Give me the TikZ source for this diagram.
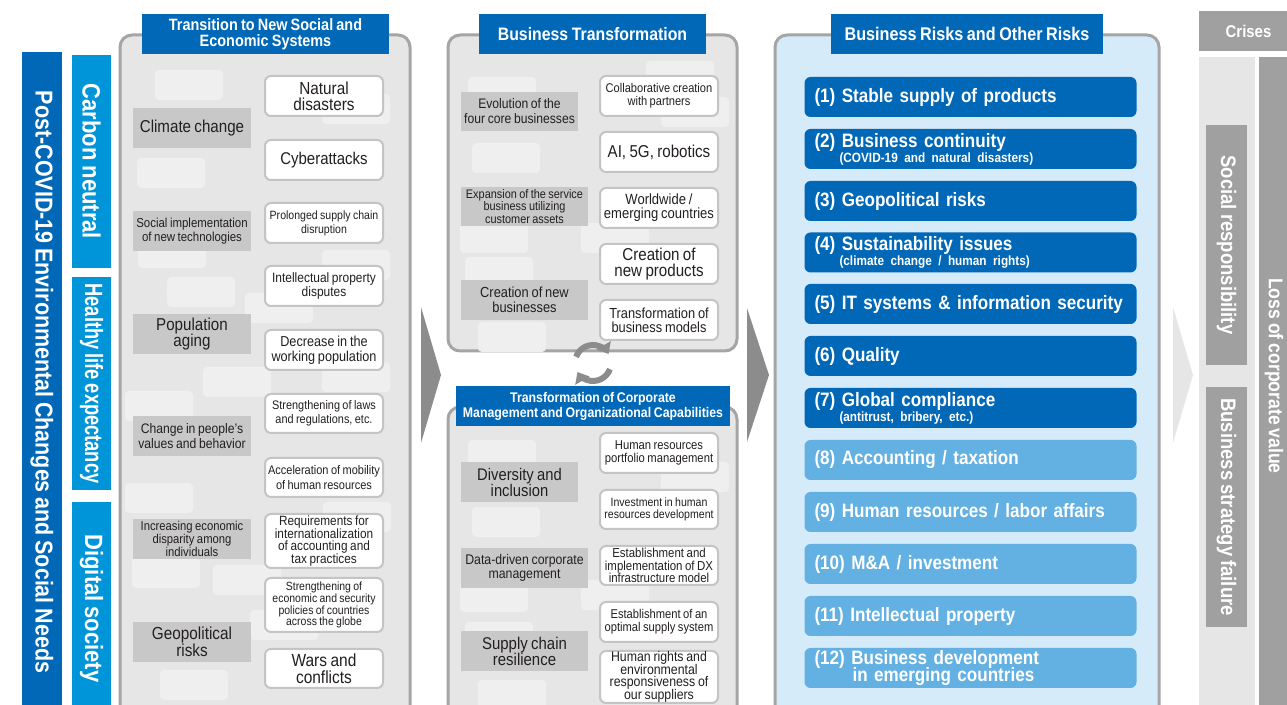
\documentclass[tikz,border=0pt]{standalone}
\usepackage{fontspec}
\setmainfont{Liberation Sans}[FakeStretch=0.88, WordSpace=0.8]
\usetikzlibrary{arrows.meta,positioning}
\definecolor{dblue}{HTML}{0068B7}
\definecolor{cblue}{HTML}{0095D9}
\definecolor{lblue}{HTML}{63B0E3}
\definecolor{pblue}{HTML}{D6EBF9}
\definecolor{panelg}{HTML}{E6E6E6}
\definecolor{frameg}{HTML}{A5A5A5}
\definecolor{lblg}{HTML}{C8C8C8}
\definecolor{itmg}{HTML}{C4C4C4}
\definecolor{paleg}{HTML}{EFEFEF}
\definecolor{chevg}{HTML}{8C8C8C}
\definecolor{boxg}{HTML}{A0A0A0}
\definecolor{txt}{HTML}{231F20}
\newcommand{\fsz}[2]{\fontsize{#1}{#2}\selectfont\lineskiplimit=-20pt\relax}

\begin{document}
\begin{tikzpicture}[x=0.5pt, y=-0.5pt,
    panel/.style={draw=frameg, line width=1.5pt, fill=panelg, rounded corners=6pt},
    deco/.style={fill=paleg, rounded corners=2pt},
    ttl/.style={fill=dblue, text=white, align=center, inner sep=0pt, minimum height=20pt},
    lbl/.style={fill=lblg, text=txt, align=center, inner sep=0pt, minimum width=59pt, minimum height=20pt},
    itm/.style={draw=itmg, line width=1pt, fill=white, rounded corners=3pt, text=txt, align=center, inner sep=0pt, minimum width=59pt, minimum height=20pt},
    risk/.style={fill=dblue, rounded corners=3pt, text=white, text width=156pt, inner xsep=5pt, inner ysep=0pt, align=left, minimum height=20pt, font=\bfseries\fsz{9.7}{10}},
    vbar/.style={text=white, rotate=-90, inner sep=0pt},
    chev/.style={fill=chevg},
    cyc/.style={draw=chevg, line width=3pt, -{Triangle[width=8pt,length=5pt]}}
]
\useasboundingbox (0,0) rectangle (1287,705);
\clip (0,0) rectangle (1287,705);

% left bars
\node[vbar, fill=dblue, minimum width=330pt, minimum height=20pt, font=\bfseries\fsz{12.2}{14}] (post) at (42,382) {Post-COVID-19 Environmental Changes and Social Needs};
\node[vbar, fill=cblue, minimum width=106.5pt, minimum height=19.5pt, font=\bfseries\fsz{12.5}{14}] (carb) at (91.5,161.5) {Carbon neutral};
\node[vbar, fill=cblue, minimum width=106.5pt, minimum height=19.5pt, font=\bfseries\fsz{12.5}{14}] (hlth) at (91.5,383.5) {\scalebox{0.83}[1]{Healthy life expectancy}};
\node[vbar, fill=cblue, minimum width=106.5pt, minimum height=19.5pt, font=\bfseries\fsz{12.5}{14}] (digi) at (91.5,608.5) {Digital society};

% panels
\draw[panel] (120,35) rectangle (410,720);
\draw[panel] (448,35) rectangle (737,351);
\draw[panel] (448,407) rectangle (737,720);
\draw[panel, fill=pblue] (775,35) rectangle (1159,720);

\foreach \x/\y in {155/70, 137/158, 138/238, 167/277, 245/293, 322/94, 322/250, 125/391, 203/367,
    125/483, 132/558, 213/565, 160/670, 250/610, 323/502, 322/362,
    468/77, 472/143, 646/61, 661/97, 460/223, 581/223, 465/257, 478/322,
    468/440, 472/507, 661/462, 460/582, 581/580, 465/622, 478/680}
  \fill[deco] (\x,\y) rectangle ++(68,30);

% transition panel
\node[ttl, minimum width=123.5pt, font=\bfseries\fsz{8.2}{8.2}] (t1) at (265.5,34) {Transition to New Social and\\Economic Systems};
\node[lbl, font={\fsz{8.6}{9}}] (clim) at (192,128) {Climate change};
\node[lbl, font={\fsz{6.5}{6.8}}] (simp) at (192,231) {Social implementation\\of new technologies};
\node[lbl, font={\fsz{8.6}{8.3}}] (popa) at (192,334) {Population\\aging};
\node[lbl, font={\fsz{6.9}{7.5}}] (chng) at (192,436) {Change in people’s\\values and behavior};
\node[lbl, font={\fsz{6.4}{6.3}}] (ineq) at (192,539) {Increasing economic\\disparity among\\individuals};
\node[lbl, font={\fsz{8.7}{8.3}}] (geop) at (192,642) {Geopolitical\\risks};

\node[itm, font={\fsz{8.7}{8.2}}] (natd) at (324,96) {Natural\\disasters};
\node[itm, font={\fsz{8.5}{9}}] (cyba) at (324,160) {Cyberattacks};
\node[itm, font={\fsz{6}{7}}] (prol) at (324,223) {Prolonged supply chain\\disruption};
\node[itm, font={\fsz{6.8}{7}}] (intp) at (324,286) {Intellectual property\\disputes};
\node[itm, font={\fsz{7.2}{7.5}}] (decr) at (324,350) {Decrease in the\\working population};
\node[itm, font={\fsz{6.2}{7}}, minimum height=19.5pt] (laws) at (324,413.5) {Strengthening of laws\\and regulations, etc.};
\node[itm, font={\fsz{6.25}{7.5}}, minimum height=19.5pt] (mobi) at (324,477.5) {Acceleration of mobility\\of human resources};
\node[itm, font={\fsz{6.7}{6.3}}, minimum height=27pt] (acct) at (324,541) {Requirements for\\internationalization\\of accounting and\\tax practices};
\node[itm, font={\fsz{5.95}{5.95}}, minimum height=27pt] (secu) at (324,605) {Strengthening of\\economic and security\\policies of countries\\across the globe};
\node[itm, font={\fsz{8.8}{8.3}}, minimum height=19.5pt] (wars) at (324,668.5) {Wars and\\conflicts};

% business transformation panel
\node[ttl, minimum width=113.5pt, font=\bfseries\fsz{9}{10}] (t2) at (592.5,34) {Business Transformation};
\node[lbl, minimum width=58.5pt, minimum height=19.5pt, font={\fsz{6.9}{7.5}}] (evol) at (519.5,111.5) {Evolution of the\\four core businesses};
\node[lbl, minimum width=63.5pt, minimum height=19.5pt, font={\fsz{6.2}{6.3}}] (expn) at (524.5,206.5) {Expansion of the service\\business utilizing\\customer assets};
\node[lbl, minimum width=63.5pt, font={\fsz{7.3}{7.3}}] (crea) at (524.5,300) {Creation of new\\businesses};

\node[itm, font={\fsz{6.3}{6.3}}] (colb) at (659,96) {Collaborative creation\\with partners};
\node[itm, font={\fsz{8.6}{9}}] (aigr) at (659,152) {AI, 5G, robotics};
\node[itm, font={\fsz{7.4}{7}}] (wrld) at (659,208) {Worldwide /\\emerging countries};
\node[itm, font={\fsz{8.6}{8.2}}] (cprd) at (659,264) {Creation of\\new products};
\node[itm, font={\fsz{7.3}{6.8}}] (tbm) at (659,320) {Transformation of\\business models};

% corporate management panel
\node[ttl, minimum width=137pt, font=\bfseries\fsz{7}{7.5}] (t3) at (593,406) {Transformation of Corporate\\Management and Organizational Capabilities};
\node[lbl, minimum width=58.5pt, font={\fsz{8.4}{8}}] (divr) at (519.5,482) {Diversity and\\inclusion};
\node[lbl, minimum width=63.5pt, font={\fsz{7}{7.2}}] (data) at (524.5,568) {Data-driven corporate\\management};
\node[lbl, minimum width=63.5pt, font={\fsz{8.5}{8}}] (supc) at (524.5,651) {Supply chain\\resilience};

\node[itm, font={\fsz{6.4}{6.4}}] (hrpm) at (659,453) {Human resources\\portfolio management};
\node[itm, font={\fsz{6}{6}}, minimum height=19.5pt] (hrdv) at (659,509.5) {Investment in human\\resources development};
\node[itm, font={\fsz{6.5}{6.2}}, minimum height=19.5pt] (dxin) at (659,565.5) {Establishment and\\implementation of DX\\infrastructure model};
\node[itm, font={\fsz{6.35}{6.4}}] (opsu) at (659,622) {Establishment of an\\optimal supply system};
\node[itm, font={\fsz{7}{6.3}}, minimum height=26pt] (hrts) at (659,677) {Human rights and\\environmental\\responsiveness of\\our suppliers};

\draw[cyc] (593,363) ++(200:18) arc[start angle=200, end angle=330, radius=18];
\draw[cyc] (593,363) ++(20:18) arc[start angle=20, end angle=150, radius=18];

% risks panel
\node[ttl, minimum width=136pt, font=\bfseries\fsz{9.2}{10}] (t4) at (967,34) {Business Risks and Other Risks};
\node[risk] (r1) at (970.5,97) {(1) Stable supply of products};
\node[risk] (r2) at (970.5,149) {(2) Business continuity\\[-2.5pt]\hspace*{12.5pt}{\fsz{6.7}{7}(COVID-19 and natural disasters)}};
\node[risk] (r3) at (970.5,201) {(3) Geopolitical risks};
\node[risk] (r4) at (970.5,252.5) {(4) Sustainability issues\\[-2.5pt]\hspace*{12.5pt}{\fsz{6.7}{7}(climate change / human rights)}};
\node[risk] (r5) at (970.5,304) {(5) IT systems \& information security};
\node[risk] (r6) at (970.5,356) {(6) Quality};
\node[risk] (r7) at (970.5,408) {(7) Global compliance\\[-2.5pt]\hspace*{12.5pt}{\fsz{6.7}{7}(antitrust, bribery, etc.)}};
\node[risk, fill=lblue] (r8) at (970.5,460) {(8) Accounting / taxation};
\node[risk, fill=lblue] (r9) at (970.5,512) {(9) Human resources / labor affairs};
\node[risk, fill=lblue] (r10) at (970.5,564) {(10) M\&A / investment};
\node[risk, fill=lblue] (r11) at (970.5,616) {(11) Intellectual property};
\node[risk, fill=lblue] (r12) at (970.5,668) {(12) Business development\\[-1.5pt]\hspace*{19pt}in emerging countries};

% chevrons
\fill[chev] (421,307) -- (441,375) -- (421,443) -- cycle;
\fill[chev] (747,308) -- (769,375) -- (747,442) -- cycle;
\fill[chev, fill=panelg] (1173,307) -- (1193,375) -- (1173,443) -- cycle;

% crises
\fill[panelg] (1199,57) rectangle (1255,720);
\fill[boxg] (1259,57) rectangle (1300,720);
\node[fill=boxg, text=white, inner sep=0pt, minimum width=49.5pt, minimum height=20pt, font=\bfseries\fsz{8.5}{10}] (cris) at (1248.5,31) {Crises};
\node[vbar, fill=boxg, minimum width=120pt, minimum height=20.5pt, font=\bfseries\fsz{10.5}{12}] (socr) at (1226.5,245) {Social responsibility};
\node[vbar, fill=boxg, minimum width=120pt, minimum height=20.5pt, font=\bfseries\fsz{10.5}{12}] (bsfl) at (1226.5,507) {Business strategy failure};
\node[vbar, font=\bfseries\fsz{10}{12}] (loss) at (1274,376) {Loss of corporate value};
\end{tikzpicture}
\end{document}
